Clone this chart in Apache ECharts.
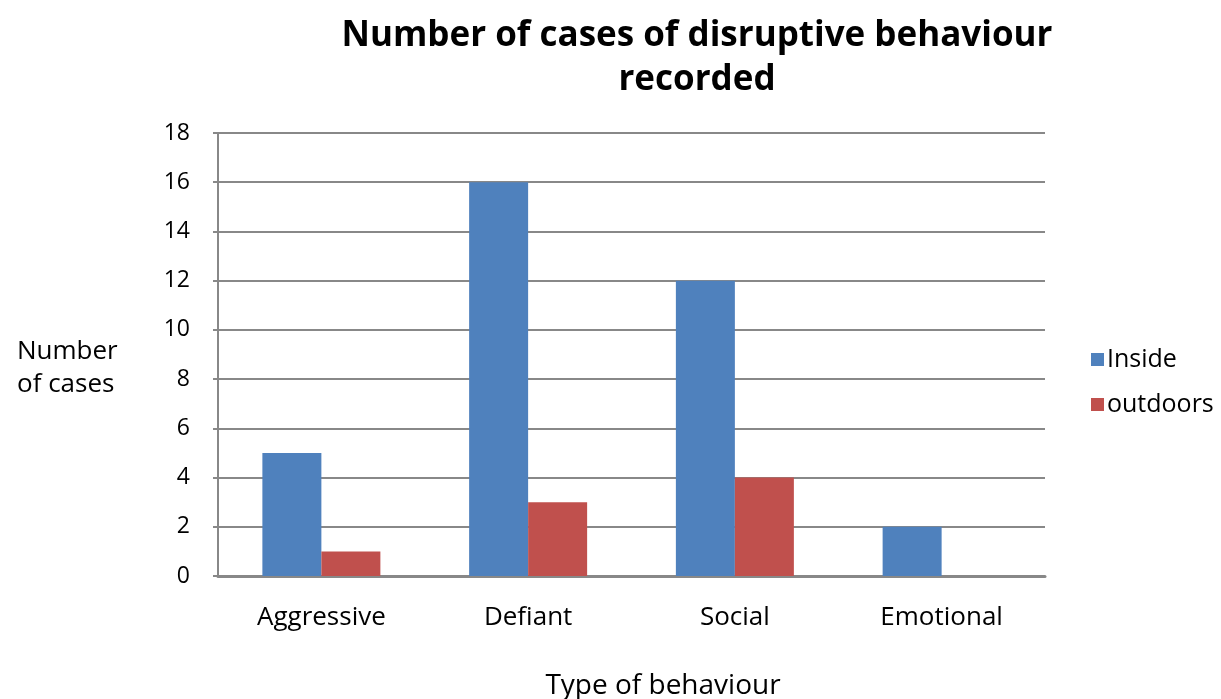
<!DOCTYPE html>
<html>
<head>
<meta charset="utf-8">
<script src="https://cdn.jsdelivr.net/npm/echarts@6/dist/echarts.min.js"></script>
<style>
  html, body { margin: 0; padding: 0; background: #fff; }
  #chart { width: 1221px; height: 699px; }
</style>
</head>
<body>
<div id="chart"></div>
<script>
const categories = ['Aggressive', 'Defiant', 'Social', 'Emotional']
const inside = [5, 16, 12, 2]
const outdoors = [1, 3, 4, 0]
const yTicks = { min: 0, max: 18, interval: 2 }

const font = 'Open Sans, Noto Sans, sans-serif'
const chart = echarts.init(document.getElementById('chart'))

chart.setOption({
  animation: false,
  textStyle: { fontFamily: font },
  title: [
    {
      text: 'Number of cases of disruptive behaviour\nrecorded',
      left: 692, top: 9, textAlign: 'center',
      textStyle: { fontSize: 35, fontWeight: 'bold', color: '#000', lineHeight: 44, fontFamily: font }
    },
    {
      text: 'Type of behaviour',
      left: 658, top: 667, textAlign: 'center',
      textStyle: { fontSize: 28, fontWeight: 'normal', color: '#000', fontFamily: font }
    },
    {
      text: 'Number\nof cases',
      left: 12, top: 330,
      textStyle: { fontSize: 26, fontWeight: 'normal', color: '#000', lineHeight: 33, fontFamily: font }
    }
  ],
  color: ['#4F81BD', '#C0504D'],
  legend: {
    orient: 'vertical',
    left: 1086, top: 342,
    itemWidth: 13, itemHeight: 13, itemGap: 20,
    icon: 'rect',
    textStyle: { fontSize: 25, color: '#000', padding: [0, 0, 0, -2] },
    data: ['Inside', 'outdoors']
  },
  grid: { left: 218, right: 176, top: 133, bottom: 123 },
  xAxis: {
    type: 'category',
    data: categories,
    axisLine: { lineStyle: { color: '#888', width: 3 } },
    axisTick: { show: false },
    axisLabel: { fontSize: 26, color: '#000', margin: 29 }
  },
  yAxis: {
    type: 'value',
    min: yTicks.min, max: yTicks.max, interval: yTicks.interval,
    axisLine: { show: true, lineStyle: { color: '#888', width: 2 } },
    axisTick: { show: true, length: 5, lineStyle: { color: '#888', width: 2 } },
    splitLine: { lineStyle: { color: '#888', width: 2 } },
    axisLabel: { fontSize: 23, color: '#000', margin: 28 }
  },
  series: [
    { name: 'Inside', type: 'bar', data: inside, barWidth: 59, barGap: '0%' },
    { name: 'outdoors', type: 'bar', data: outdoors, barWidth: 59, barGap: '0%' }
  ]
})
</script>
</body>
</html>
